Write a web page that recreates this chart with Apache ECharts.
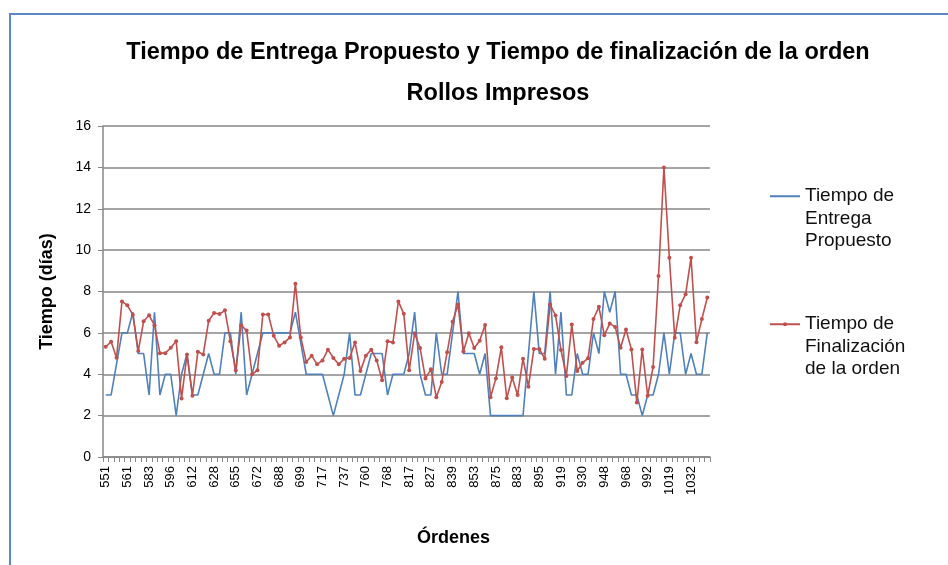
<!DOCTYPE html>
<html>
<head>
<meta charset="utf-8">
<title>Tiempo de Entrega Propuesto y Tiempo de finalización de la orden</title>
<script src="https://cdn.jsdelivr.net/npm/echarts@6/dist/echarts.min.js"></script>
<style>
    html, body { margin: 0; padding: 0; background: #fff; }
    #chart_orders { width: 948px; height: 565px; }
</style>
</head>
<body>
<div id="chart_orders"></div>
<script>
// Chart data
// ------------------------------

// Order numbers (only every 4th one is labelled on the axis)
var ordenes = [
    551, 553, 556, 558, 561, 566, 572, 578, 583, 586, 590, 593,
    596, 600, 604, 608, 612, 616, 620, 624, 628, 635, 642, 648,
    655, 659, 664, 668, 672, 676, 680, 684, 688, 691, 694, 697,
    699, 703, 708, 713, 717, 722, 727, 732, 737, 743, 749, 755,
    760, 762, 764, 766, 768, 780, 792, 805, 817, 820, 822, 825,
    827, 830, 833, 836, 839, 843, 846, 850, 853, 858, 864, 870,
    875, 877, 879, 881, 883, 886, 889, 892, 895, 901, 907, 913,
    919, 922, 925, 928, 930, 935, 939, 944, 948, 953, 958, 963,
    968, 974, 980, 986, 992, 999, 1005, 1012, 1019, 1022, 1026, 1029,
    1032, 1035, 1038, 1041
];

// Tiempo de Entrega Propuesto (días)
var entregaPropuesto = [
    3, 3, 4.5, 6, 6, 7, 5, 5, 3, 7,
    3, 4, 4, 2, 4, 5, 3, 3, 4, 5,
    4, 4, 6, 6, 4, 7, 3, 4, 5, 6,
    6, 6, 6, 6, 6, 7, 5.5, 4, 4, 4,
    4, 3, 2, 3, 4, 6, 3, 3, 4, 5,
    5, 5, 3, 4, 4, 4, 5, 7, 4, 3,
    3, 6, 4, 4, 6, 8, 5, 5, 5, 4,
    5, 2, 2, 2, 2, 2, 2, 2, 5, 8,
    5, 5, 8, 4, 7, 3, 3, 5, 4, 4,
    6, 5, 8, 7, 8, 4, 4, 3, 3, 2,
    3, 3, 4, 6, 4, 6, 6, 4, 5, 4,
    4, 6
];

// Tiempo de Finalización de la orden (días)
var finalizacionOrden = [
    5.33, 5.57, 4.8, 7.52, 7.33, 6.88, 5.12, 6.56, 6.85, 6.37,
    5.02, 5.02, 5.28, 5.6, 2.83, 4.96, 2.96, 5.09, 4.96, 6.59,
    6.96, 6.91, 7.09, 5.6, 4.19, 6.37, 6.11, 4.0, 4.19, 6.89,
    6.89, 5.86, 5.38, 5.54, 5.78, 8.37, 5.78, 4.59, 4.9, 4.48,
    4.67, 5.19, 4.79, 4.48, 4.75, 4.79, 5.54, 4.16, 4.9, 5.19,
    4.67, 3.71, 5.59, 5.54, 7.52, 6.92, 4.19, 5.98, 5.27, 3.8,
    4.24, 2.89, 3.63, 5.06, 6.54, 7.37, 5.1, 5.98, 5.27, 5.62,
    6.38, 2.89, 3.8, 5.3, 2.84, 3.84, 3.0, 4.75, 3.4, 5.22,
    5.22, 4.75, 7.37, 6.84, 5.17, 3.92, 6.4, 4.16, 4.56, 4.77,
    6.67, 7.26, 5.89, 6.45, 6.29, 5.28, 6.16, 5.2, 2.64, 5.2,
    2.96, 4.35, 8.75, 14.0, 9.63, 5.76, 7.33, 7.87, 9.63, 5.55,
    6.67, 7.71
];

// Legend texts, wrapped like the original.
// Two blank lines in front keep the icon next to the first text line.
var legendLabels = {
    'Tiempo de Entrega Propuesto': '\n\nTiempo de\nEntrega\nPropuesto',
    'Tiempo de Finalización de la orden': '\n\nTiempo de\nFinalización\nde la orden'
};


// Setup chart
// ------------------------------

var chartDom = document.getElementById('chart_orders');
var chart = echarts.init(chartDom, null, { renderer: 'canvas' });

var fontFamily = '"Liberation Sans", Arial, sans-serif';
var gridColor = '#878787';

var legendText = {
    fontFamily: fontFamily,
    fontSize: 19,
    color: '#111',
    lineHeight: 22.5
};

chart.setOption({
    animation: false,
    textStyle: { fontFamily: fontFamily },

    // Outer chart border (cut by the picture edge on right and bottom)
    graphic: [{
        type: 'rect',
        shape: { x: 10, y: 14, width: 1000, height: 700 },
        style: { fill: 'none', stroke: '#5b87c3', lineWidth: 2 },
        silent: true
    }],

    title: {
        text: 'Tiempo de Entrega Propuesto y Tiempo de finalización de la orden\nRollos Impresos',
        left: 493,
        top: 27,
        textAlign: 'center',
        textStyle: {
            fontSize: 23.5,
            fontWeight: 'bold',
            color: '#000',
            lineHeight: 41
        }
    },

    legend: [{
        data: ['Tiempo de Entrega Propuesto'],
        left: 764,
        top: 135,
        itemWidth: 30,
        itemHeight: 6,
        selectedMode: false,
        itemStyle: { opacity: 0 },
        formatter: function (name) { return legendLabels[name]; },
        textStyle: legendText
    }, {
        data: ['Tiempo de Finalización de la orden'],
        left: 764,
        top: 263,
        itemWidth: 30,
        itemHeight: 5,
        selectedMode: false,
        formatter: function (name) { return legendLabels[name]; },
        textStyle: legendText
    }],

    tooltip: { trigger: 'axis' },

    grid: {
        left: 103,
        right: 238,
        top: 126,
        bottom: 108,
        containLabel: false
    },

    xAxis: {
        type: 'category',
        data: ordenes,
        name: 'Órdenes',
        nameLocation: 'middle',
        nameGap: 72,
        nameTextStyle: {
            fontSize: 18,
            fontWeight: 'bold',
            color: '#000',
            padding: [0, 0, 0, 94]
        },
        axisLine: { lineStyle: { color: gridColor, width: 1.5 } },
        axisTick: { show: true, interval: 0, length: 5, lineStyle: { color: gridColor } },
        axisLabel: {
            interval: 3,
            rotate: 90,
            fontSize: 13,
            color: '#000',
            margin: 9
        }
    },

    yAxis: {
        type: 'value',
        min: 0,
        max: 16,
        interval: 2,
        name: 'Tiempo (días)',
        nameLocation: 'middle',
        nameGap: 47,
        nameRotate: 90,
        nameTextStyle: { fontSize: 18, fontWeight: 'bold', color: '#000' },
        axisLine: { show: true, lineStyle: { color: gridColor, width: 1.5 } },
        axisTick: { show: true, length: 5, lineStyle: { color: gridColor } },
        axisLabel: { fontSize: 14, color: '#000', margin: 12 },
        splitLine: { lineStyle: { color: gridColor, width: 1.5 } }
    },

    series: [{
        name: 'Tiempo de Entrega Propuesto',
        type: 'line',
        data: entregaPropuesto,
        symbol: 'none',
        lineStyle: { color: '#4f81bd', width: 1.6 },
        itemStyle: { color: '#4f81bd' }
    }, {
        name: 'Tiempo de Finalización de la orden',
        type: 'line',
        data: finalizacionOrden,
        symbol: 'circle',
        symbolSize: 4,
        showAllSymbol: true,
        lineStyle: { color: '#c0504d', width: 1.6 },
        itemStyle: { color: '#c0504d' }
    }]
});

window.addEventListener('resize', function () {
    chart.resize();
});
</script>
</body>
</html>
